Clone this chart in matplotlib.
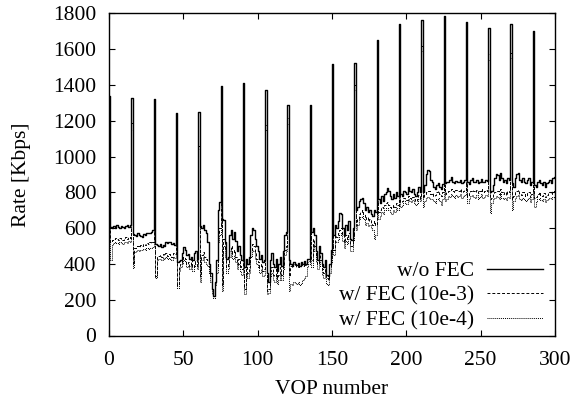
import numpy as np
import matplotlib
matplotlib.use("Agg")
import matplotlib.pyplot as plt

plt.rcParams['font.family'] = ['Liberation Serif', 'DejaVu Serif']

# VOP index 0..299 (one value per VOP), 20 GOPs of 15 VOPs
vop = list(range(300))

rate_no_fec = [
    1340, 605, 600, 610, 600, 615, 605, 600, 612, 605, 598, 610, 615, 605, 620,
    1325, 565, 560, 555, 570, 560, 555, 550, 565, 560, 570, 575, 570, 580, 590,
    1320, 510, 505, 500, 510, 495, 505, 500, 520, 515, 525, 520, 510, 515, 505,
    1245, 410, 415, 420, 460, 495, 480, 450, 455, 430, 440, 420, 460, 470, 430,
    1250, 610, 600, 620, 590, 575, 520, 400, 350, 260, 220, 300, 420, 700, 745,
    1395, 650, 645, 520, 430, 440, 560, 590, 540, 580, 530, 470, 500, 450, 420,
    1410, 380, 430, 400, 440, 560, 600, 590, 540, 500, 470, 430, 450, 410, 420,
    1370, 350, 300, 420, 460, 400, 380, 430, 360, 400, 440, 390, 470, 560, 580,
    1285, 420, 400, 390, 410, 400, 395, 405, 390, 410, 400, 415, 400, 425, 430,
    1285, 580, 600, 560, 470, 420, 500, 460, 400, 380, 420, 340, 330, 400, 480,
    1515, 560, 620, 600, 640, 685, 680, 600, 560, 620, 590, 640, 540, 535, 600,
    1525, 700, 720, 750, 765, 770, 740, 700, 720, 690, 700, 680, 670, 700, 690,
    1650, 760, 740, 780, 750, 790, 800, 825, 810, 780, 760, 790, 770, 800, 780,
    1740, 790, 780, 810, 800, 790, 830, 810, 800, 820, 790, 780, 800, 830, 800,
    1765, 800, 840, 900, 925, 920, 870, 860, 830, 820, 840, 850, 830, 820, 845,
    1785, 850, 860, 855, 870, 885, 860, 850, 865, 855, 860, 870, 850, 860, 870,
    1750, 860, 845, 870, 880, 860, 855, 870, 850, 860, 875, 855, 860, 870, 865,
    1720, 800, 810, 840, 880, 905, 895, 870, 910, 880, 860, 870, 850, 880, 870,
    1740, 850, 830, 880, 900, 910, 870, 860, 880, 860, 850, 870, 880, 840, 860,
    1700, 840, 830, 860, 870, 850, 840, 860, 830, 850, 860, 870, 850, 880, 885,
]

rate_fec_1e3 = [
    1180, 520, 535, 540, 545, 540, 535, 545, 540, 535, 545, 548, 540, 550, 545,
    1185, 400, 490, 495, 500, 495, 505, 500, 510, 505, 515, 510, 520, 515, 525,
    1180, 330, 440, 445, 450, 440, 455, 450, 460, 445, 455, 450, 440, 460, 455,
    1105, 280, 380, 400, 420, 440, 430, 400, 410, 390, 420, 380, 400, 420, 390,
    1060, 330, 450, 465, 440, 430, 420, 380, 330, 260, 240, 300, 380, 560, 600,
    1200, 280, 540, 480, 380, 400, 470, 500, 460, 480, 440, 400, 430, 390, 370,
    1205, 260, 380, 350, 380, 470, 510, 500, 460, 430, 410, 380, 400, 360, 370,
    1175, 250, 260, 360, 380, 340, 330, 370, 320, 340, 380, 340, 400, 480, 500,
    1215, 330, 390, 380, 400, 395, 385, 400, 380, 395, 390, 405, 395, 410, 415,
    1200, 420, 540, 500, 440, 400, 450, 420, 370, 350, 390, 320, 310, 380, 440,
    1375, 480, 560, 550, 570, 590, 600, 560, 520, 560, 540, 570, 500, 500, 560,
    1400, 620, 650, 680, 690, 700, 680, 650, 660, 640, 650, 630, 620, 640, 620,
    1525, 690, 700, 720, 710, 730, 740, 745, 730, 720, 710, 730, 720, 740, 730,
    1605, 745, 750, 770, 760, 755, 780, 770, 765, 775, 760, 750, 760, 785, 770,
    1620, 770, 790, 800, 810, 805, 790, 795, 780, 785, 800, 805, 790, 780, 800,
    1640, 790, 800, 810, 805, 820, 810, 800, 815, 805, 810, 820, 800, 810, 815,
    1600, 780, 800, 810, 815, 805, 800, 815, 795, 805, 820, 800, 805, 815, 810,
    1570, 760, 770, 790, 800, 810, 805, 790, 820, 800, 790, 800, 785, 805, 800,
    1580, 760, 780, 800, 810, 815, 790, 785, 800, 790, 780, 795, 800, 775, 790,
    1560, 770, 775, 790, 800, 785, 780, 795, 775, 785, 795, 800, 790, 805, 800,
]

rate_fec_1e4 = [
    1150, 420, 505, 515, 520, 515, 510, 520, 518, 512, 522, 525, 518, 528, 522,
    1150, 375, 465, 470, 475, 470, 478, 475, 482, 480, 488, 485, 490, 488, 495,
    1150, 320, 420, 425, 430, 420, 435, 430, 440, 425, 435, 430, 420, 440, 435,
    1080, 265, 360, 380, 400, 420, 410, 380, 390, 370, 400, 360, 380, 400, 370,
    1040, 300, 420, 440, 410, 400, 390, 350, 300, 230, 210, 280, 350, 520, 560,
    1170, 250, 500, 440, 350, 370, 440, 470, 430, 450, 410, 370, 400, 360, 340,
    1180, 230, 350, 320, 350, 440, 480, 470, 430, 400, 380, 350, 370, 330, 340,
    1150, 230, 240, 330, 350, 310, 300, 340, 290, 310, 350, 310, 370, 450, 470,
    1180, 250, 290, 280, 300, 295, 285, 300, 280, 295, 310, 320, 330, 380, 400,
    1170, 380, 510, 470, 410, 370, 420, 390, 340, 320, 360, 290, 280, 350, 410,
    1340, 450, 530, 520, 540, 560, 570, 530, 490, 530, 510, 540, 470, 470, 530,
    1370, 590, 620, 650, 660, 670, 650, 620, 630, 610, 620, 600, 590, 540, 560,
    1490, 650, 670, 690, 680, 700, 710, 715, 700, 690, 680, 700, 690, 710, 700,
    1570, 720, 730, 750, 740, 735, 760, 750, 745, 755, 740, 730, 740, 765, 750,
    1590, 720, 750, 770, 775, 770, 760, 765, 750, 740, 760, 770, 750, 730, 760,
    1610, 750, 760, 780, 775, 790, 780, 770, 785, 775, 780, 790, 770, 780, 785,
    1570, 740, 760, 780, 785, 775, 770, 785, 765, 775, 790, 770, 775, 785, 780,
    1540, 685, 740, 760, 770, 780, 775, 760, 790, 770, 760, 770, 755, 775, 770,
    1550, 700, 750, 770, 780, 785, 760, 755, 770, 760, 750, 765, 770, 745, 760,
    1530, 720, 745, 760, 770, 755, 750, 765, 745, 755, 765, 770, 760, 775, 770,
]

labels = ["w/o FEC", "w/ FEC (10e-3)", "w/ FEC (10e-4)"]
xticks = [0, 50, 100, 150, 200, 250, 300]
yticks = [0, 200, 400, 600, 800, 1000, 1200, 1400, 1600, 1800]

fig = plt.figure(figsize=(5.7, 4.05), dpi=100)
ax = fig.add_axes([109/570, 1-335.5/405, (555-109)/570, (335.5-13.3)/405])

def ext(y):
    x = np.array(vop + [vop[-1] + 1])
    return x, np.array(list(y) + [y[-1]])

x, y = ext(rate_fec_1e4)
ax.step(x, y, where='post', color='black', lw=0.7, linestyle=(0, (1, 1)), label=labels[2])
x, y = ext(rate_fec_1e3)
ax.step(x, y, where='post', color='black', lw=0.7, linestyle=(0, (3, 2)), label=labels[1])
x, y = ext(rate_no_fec)
ax.step(x, y, where='post', color='black', lw=1.0, linestyle='-', label=labels[0])

ax.set_xlim(0, 300)
ax.set_ylim(0, 1800)
ax.set_xticks(xticks)
ax.set_yticks(yticks)
ax.tick_params(direction='in', length=4, width=0.8, top=True, right=True,
               labelsize=15.5)
ax.tick_params(axis='y', pad=9)
ax.tick_params(axis='x', pad=11)
for s in ax.spines.values():
    s.set_linewidth(1.0)

ax.set_xlabel("VOP number", fontsize=15.5, labelpad=7)
ax.set_ylabel("Rate [Kbps]", fontsize=15.5, labelpad=16)

h, l = ax.get_legend_handles_labels()
order = [2, 1, 0]
ax.legend([h[i] for i in order], [l[i] for i in order], loc='lower right',
          bbox_to_anchor=(1.0, -0.022),
          frameon=False, markerfirst=False, fontsize=15.5, handlelength=2.6,
          handletextpad=0.6, labelspacing=0.22, borderaxespad=0.15)

fig.savefig("out.png", dpi=100)
